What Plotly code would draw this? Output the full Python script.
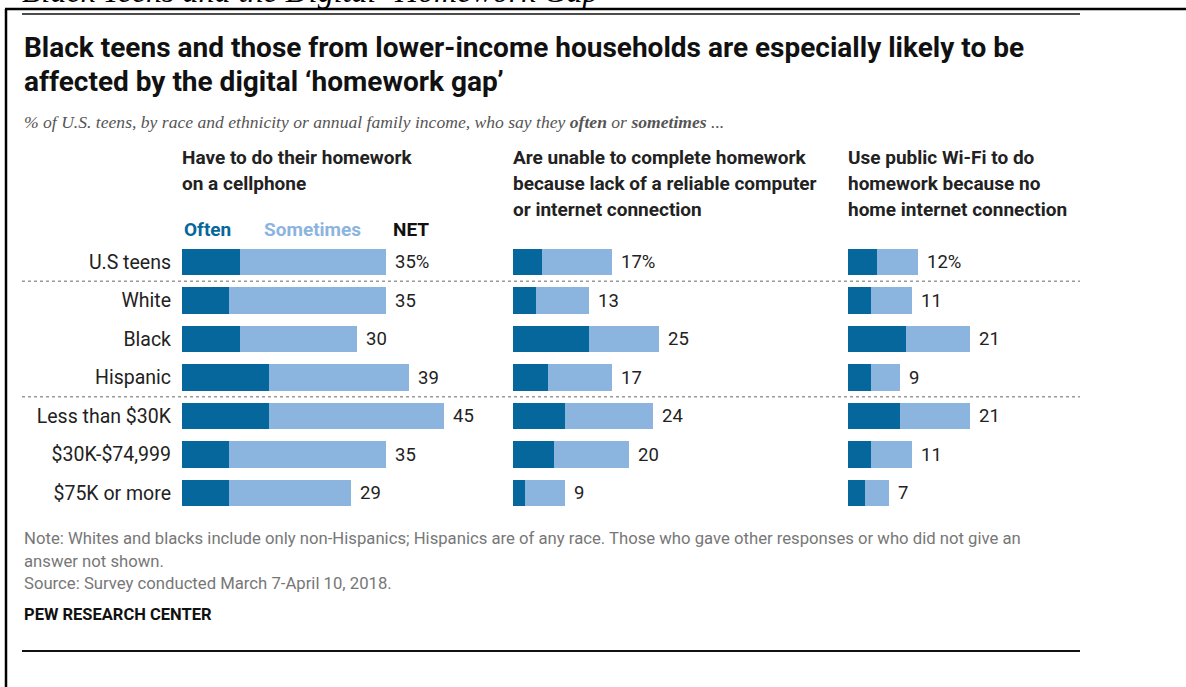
import plotly.graph_objects as go

# ---- data -------------------------------------------------------------
groups = ["U.S teens", "White", "Black", "Hispanic",
          "Less than $30K", "$30K-$74,999", "$75K or more"]

cell_often = [10, 8, 10, 15, 15, 8, 8]
cell_sometimes = [25, 27, 20, 24, 30, 27, 21]
cell_net = [35, 35, 30, 39, 45, 35, 29]

unable_often = [5, 4, 13, 6, 9, 7, 2]
unable_sometimes = [12, 9, 12, 11, 15, 13, 7]
unable_net = [17, 13, 25, 17, 24, 20, 9]

wifi_often = [5, 4, 10, 4, 9, 4, 3]
wifi_sometimes = [7, 7, 11, 5, 12, 7, 4]
wifi_net = [12, 11, 21, 9, 21, 11, 7]

panel_titles = [
    ["Have to do their homework", "on a cellphone"],
    ["Are unable to complete homework", "because lack of a reliable computer",
     "or internet connection"],
    ["Use public Wi-Fi to do", "homework because no", "home internet connection"],
]
legend_labels = ["Often", "Sometimes", "NET"]

# ---- styling ----------------------------------------------------------
W, H = 1186, 687
DARK = "#05679c"
LIGHT = "#8bb4de"
TEXT = "#222222"
SANS = "Roboto, Arial, sans-serif"
SERIF = "Liberation Serif, Times New Roman, serif"

def fx(p):
    return p / W

def fy(p):
    return 1 - p / H

panel_left = [182, 513, 848]   # left edge of each bar panel, px
panel_width = 291              # px covering 0..50 %
row_top, row_step = 262 - 38.5 / 2, 38.5

fig = go.Figure()

panels = [
    (cell_often, cell_sometimes, cell_net),
    (unable_often, unable_sometimes, unable_net),
    (wifi_often, wifi_sometimes, wifi_net),
]
annotations = []
for i, (often, sometimes, net) in enumerate(panels):
    xa = "x" if i == 0 else f"x{i + 1}"
    fig.add_trace(go.Bar(y=groups, x=often, orientation="h", xaxis=xa, yaxis="y",
                         marker=dict(color=DARK, line=dict(width=0)), width=0.7,
                         showlegend=False, hoverinfo="skip"))
    fig.add_trace(go.Bar(y=groups, x=sometimes, orientation="h", xaxis=xa, yaxis="y",
                         marker=dict(color=LIGHT, line=dict(width=0)), width=0.7,
                         showlegend=False, hoverinfo="skip"))
    for j, (g, v) in enumerate(zip(groups, net)):
        annotations.append(dict(
            x=v, y=g, xref=xa, yref="y", xanchor="left", yanchor="middle",
            xshift=7, showarrow=False, text=f"{v}%" if j == 0 else str(v),
            font=dict(family=SANS, size=18.5, color=TEXT)))

layout_axes = {}
for i, left in enumerate(panel_left):
    key = "xaxis" if i == 0 else f"xaxis{i + 1}"
    layout_axes[key] = dict(domain=[fx(left), fx(left + panel_width)], range=[0, 50],
                            visible=False, anchor="y", fixedrange=True)

y_bottom = row_top + row_step * len(groups)
layout_axes["yaxis"] = dict(
    domain=[fy(y_bottom), fy(row_top)], type="category", categoryarray=groups,
    categoryorder="array", autorange="reversed", anchor="x",
    showgrid=False, zeroline=False, showline=False, ticks="",
    ticklabelstandoff=10, tickfont=dict(family=SANS, size=19.5, color=TEXT),
    fixedrange=True)

def label(text, x, y, size, color=TEXT, family=SANS, xanchor="left"):
    annotations.append(dict(x=fx(x), y=fy(y), xref="paper", yref="paper",
                            xanchor=xanchor, yanchor="middle", showarrow=False,
                            text=text, font=dict(family=family, size=size, color=color)))

# heading running off the top edge of the page
label("<i>Black Teens and the Digital ‘Homework Gap’</i>", 20, -9, 32,
      color="#000000", family=SERIF)

# chart title
label("<b>Black teens and those from lower-income households are especially likely to be</b>",
      22, 48, 28, color="#111111")
label("<b>affected by the digital ‘homework gap’</b>", 22, 82, 28, color="#111111")

# subtitle
label("<i>% of U.S. teens, by race and ethnicity or annual family income, who say they "
      "<b>often</b> or <b>sometimes</b> ...</i>", 22, 122, 17.6, color="#555555", family=SERIF)

# panel headers
for left, lines in zip(panel_left, panel_titles):
    for k, line in enumerate(lines):
        label(f"<b>{line}</b>", left - 2, 157 + 26 * k, 19)

# legend row above first panel
label(f"<b>{legend_labels[0]}</b>", 182, 230, 19, color=DARK)
label(f"<b>{legend_labels[1]}</b>", 262, 230, 19, color=LIGHT)
label(f"<b>{legend_labels[2]}</b>", 391, 230, 19, color="#111111")

# footer
NOTE = "#777777"
label("Note: Whites and blacks include only non-Hispanics; Hispanics are of any race. "
      "Those who gave other responses or who did not give an", 22, 538, 16.7, color=NOTE)
label("answer not shown.", 22, 561, 16.7, color=NOTE)
label("Source: Survey conducted March 7-April 10, 2018.", 22, 583, 16.7, color=NOTE)
label("<b>PEW RESEARCH CENTER</b>", 22, 614, 16.5, color="#111111")

shapes = []
# dotted group separators
for yv in (0.5, 3.5):
    shapes.append(dict(type="line", xref="paper", yref="y", x0=fx(22), x1=fx(1080),
                       y0=yv, y1=yv, line=dict(color="#9a9a9a", width=1.5, dash="dot")))

def hline(y, x0, x1, width, color="#111111"):
    shapes.append(dict(type="line", xref="paper", yref="paper", x0=fx(x0), x1=fx(x1),
                       y0=fy(y), y1=fy(y), line=dict(color=color, width=width)))

# page frame
hline(9, 5, W, 2.5, "#000000")
hline(14, 22, 1080, 1.5)
hline(651, 22, 1080, 2)
shapes.append(dict(type="line", xref="paper", yref="paper", x0=fx(6), x1=fx(6),
                   y0=fy(9), y1=0, line=dict(color="#000000", width=2.5)))

fig.update_layout(
    width=W, height=H, margin=dict(l=0, r=0, t=0, b=0),
    paper_bgcolor="white", plot_bgcolor="white",
    barmode="stack", bargap=0.3,
    annotations=annotations, shapes=shapes,
    **layout_axes,
)

fig.write_html("out.html", config={"displayModeBar": False})
